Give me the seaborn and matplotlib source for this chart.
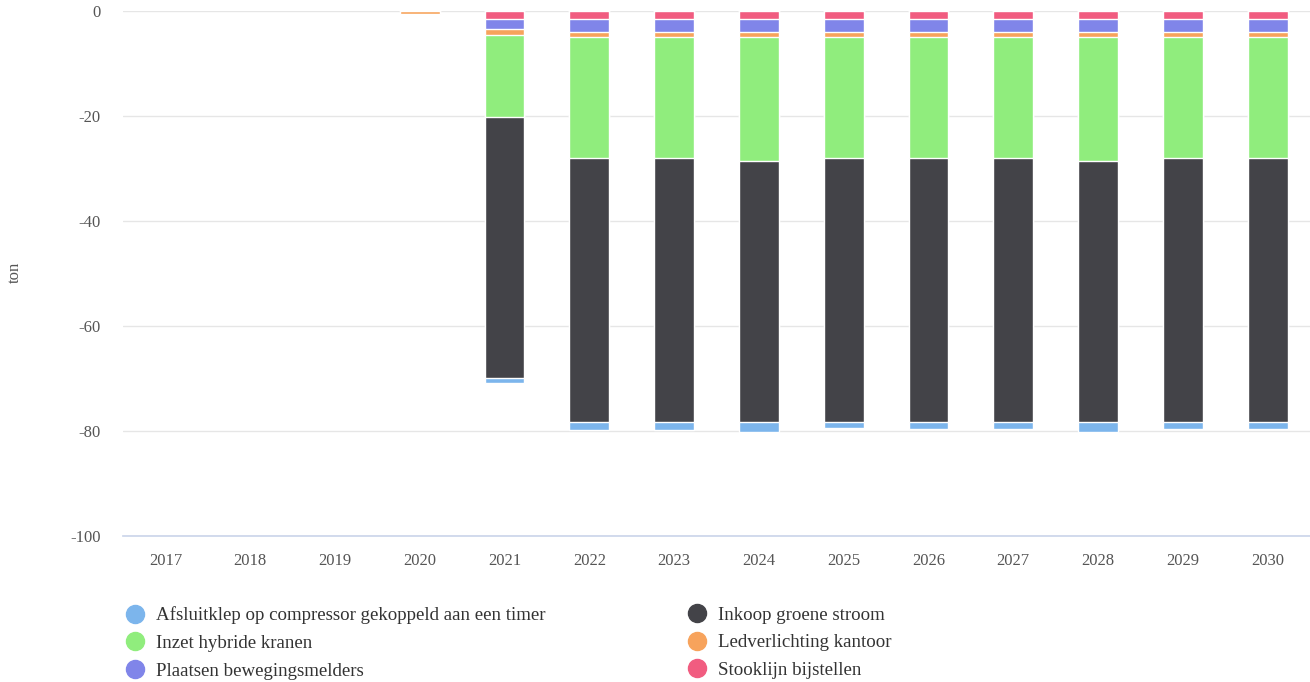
import numpy as np
import pandas as pd
import matplotlib
matplotlib.use("Agg")
import matplotlib.pyplot as plt
from matplotlib.lines import Line2D
import seaborn as sns

# data (ton, shown as reductions -> negative)
years = [str(y) for y in range(2017, 2031)]
afsluitklep = [0, 0, 0, 0, 1.0, 1.5, 1.5, 1.9, 1.2, 1.3, 1.4, 1.8, 1.3, 1.4]
groene_stroom = [0, 0, 0, 0, 49.8, 50.3, 50.3, 49.7, 50.3, 50.3, 50.3, 49.8, 50.3, 50.3]
hybride_kranen = [0, 0, 0, 0, 15.6, 23.0, 23.0, 23.6, 23.0, 23.0, 23.0, 23.5, 23.0, 23.0]
ledverlichting = [0, 0, 0, 0.5, 1.0, 1.0, 1.0, 1.0, 1.0, 1.0, 1.0, 1.0, 1.0, 1.0]
bewegingsmelders = [0, 0, 0, 0, 2.0, 2.5, 2.5, 2.5, 2.5, 2.5, 2.5, 2.5, 2.5, 2.5]
stooklijn = [0, 0, 0, 0, 1.5, 1.5, 1.5, 1.5, 1.5, 1.5, 1.5, 1.5, 1.5, 1.5]

names = ["Afsluitklep op compressor gekoppeld aan een timer", "Inkoop groene stroom",
         "Inzet hybride kranen", "Ledverlichting kantoor",
         "Plaatsen bewegingsmelders", "Stooklijn bijstellen"]
colors = ["#7cb5ec", "#434348", "#90ed7d", "#f7a35c", "#8085e9", "#f15c80"]
series = [afsluitklep, groene_stroom, hybride_kranen, ledverlichting, bewegingsmelders, stooklijn]

sns.set_theme(style="white")
plt.rcParams['font.family'] = ['Liberation Serif', 'DejaVu Serif']

fig = plt.figure(figsize=(13.1, 6.82), dpi=100)
ax = fig.add_axes([123 / 1310, 1 - 536 / 682, 1 - 123 / 1310, (536 - 11) / 682])

# stack from 0 downward: last series sits nearest the axis
stack_order = list(range(len(series)))[::-1]
cum = np.zeros(len(years))
cums = {}
for i in stack_order:
    cum = cum + np.array(series[i])
    cums[i] = cum.copy()

# draw largest cumulative first so the shorter ones overlay
for i in stack_order[::-1]:
    vals = -cums[i]
    vals = np.where(vals == 0, np.nan, vals)  # no mark for empty years
    df = pd.DataFrame({"year": years, "value": vals})
    sns.barplot(data=df, x="year", y="value", color=colors[i], saturation=1,
                width=0.47, edgecolor="white", linewidth=1, ax=ax, order=years)

ax.set_ylim(-100, 0)
ax.set_xlim(-0.5, len(years) - 0.5)
ax.set_yticks([0, -20, -40, -60, -80, -100])
ax.set_yticklabels(["0", "-20", "-40", "-60", "-80", "-100"])
ax.yaxis.grid(True, color="#e6e6e6", linewidth=1)
ax.set_axisbelow(True)
for s in ["left", "right", "top"]:
    ax.spines[s].set_visible(False)
ax.spines["bottom"].set_color("#ccd6eb")
ax.tick_params(axis="both", length=0, labelsize=12, colors="#555555")
ax.tick_params(axis="y", pad=16)
ax.tick_params(axis="x", pad=12)
ax.set_xlabel("")
ax.set_ylabel("")
fig.text(15 / 1310, 1 - 272 / 682, "ton", rotation=90, ha="center", va="center",
         fontsize=12, color="#555555")

def handle(c):
    return Line2D([], [], marker="o", linestyle="", markersize=13,
                  markerfacecolor=c, markeredgecolor=c)

left_idx = [0, 2, 4]
right_idx = [1, 3, 5]
for idx, xpos in [(left_idx, 118), (right_idx, 680)]:
    leg = fig.legend([handle(colors[i]) for i in idx], [names[i] for i in idx],
                     loc="upper left", bbox_to_anchor=(xpos / 1310, 1 - 599 / 682),
                     frameon=False, fontsize=13.6, handlelength=1.0, handletextpad=0.6,
                     labelspacing=0.55, borderaxespad=0)
    for t in leg.get_texts():
        t.set_color("#333333")

fig.savefig("out.png", dpi=100)
